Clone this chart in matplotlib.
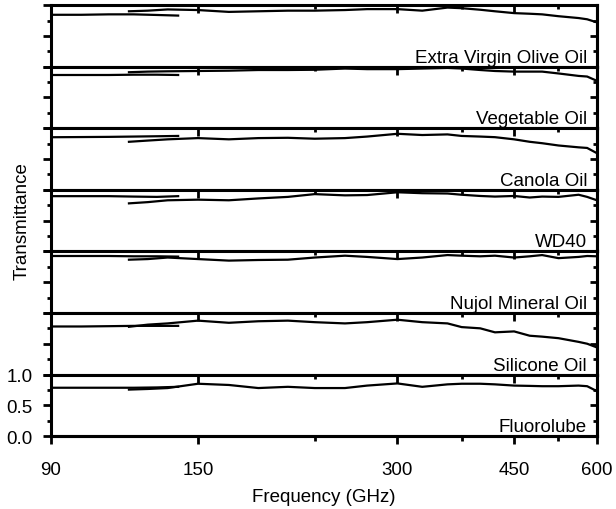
import matplotlib
matplotlib.use('Agg')
import matplotlib.pyplot as plt
from matplotlib.ticker import FixedLocator, NullFormatter, FixedFormatter

plt.rcParams['font.family'] = ['Liberation Sans', 'DejaVu Sans']

# frequency grids (GHz) for the two measurement bands
freq_short = [90, 100, 110, 120, 130, 140]
freq_long = [118, 126, 135, 150, 167, 185, 205, 225, 250, 270, 300, 327,
             357, 375, 400, 421, 450, 475, 496, 525, 563, 580, 600]

samples = ['Extra Virgin Olive Oil', 'Vegetable Oil', 'Canola Oil', 'WD40',
           'Nujol Mineral Oil', 'Silicone Oil', 'Fluorolube']

# transmittance, low band
olive_short = [0.843, 0.843, 0.85, 0.85, 0.84, 0.83]
veg_short = [0.865, 0.865, 0.865, 0.87, 0.87, 0.865]
canola_short = [0.854, 0.857, 0.86, 0.865, 0.87, 0.875]
wd40_short = [0.897, 0.897, 0.897, 0.89, 0.885, 0.897]
nujol_short = [0.925, 0.925, 0.925, 0.92, 0.92, 0.915]
silicone_short = [0.78, 0.78, 0.785, 0.79, 0.79, 0.79]
fluoro_short = [0.785, 0.785, 0.785, 0.785, 0.79, 0.80]

# transmittance, high band
olive_long = [0.90, 0.91, 0.93, 0.92, 0.89, 0.90, 0.91, 0.91, 0.92, 0.935, 0.935, 0.91,
              0.96, 0.95, 0.925, 0.90, 0.87, 0.86, 0.85, 0.82, 0.79, 0.77, 0.72]
veg_long = [0.91, 0.92, 0.925, 0.93, 0.935, 0.946, 0.946, 0.95, 0.97, 0.96, 0.96, 0.97,
            0.98, 0.97, 0.946, 0.93, 0.92, 0.92, 0.92, 0.89, 0.85, 0.84, 0.77]
canola_long = [0.78, 0.80, 0.82, 0.84, 0.82, 0.84, 0.845, 0.83, 0.84, 0.865, 0.91, 0.89,
               0.90, 0.875, 0.865, 0.855, 0.82, 0.78, 0.757, 0.72, 0.69, 0.68, 0.595]
wd40_long = [0.78, 0.80, 0.83, 0.84, 0.83, 0.86, 0.885, 0.93, 0.91, 0.915, 0.96, 0.945,
             0.94, 0.92, 0.90, 0.89, 0.90, 0.875, 0.89, 0.885, 0.92, 0.885, 0.83]
nujol_long = [0.865, 0.875, 0.90, 0.875, 0.85, 0.86, 0.865, 0.90, 0.93, 0.91, 0.875, 0.90,
              0.94, 0.93, 0.92, 0.93, 0.90, 0.92, 0.94, 0.89, 0.91, 0.925, 0.92]
silicone_long = [0.775, 0.81, 0.83, 0.875, 0.84, 0.865, 0.875, 0.85, 0.83, 0.85, 0.89, 0.85,
                 0.83, 0.77, 0.75, 0.685, 0.70, 0.63, 0.615, 0.59, 0.53, 0.50, 0.44]
fluoro_long = [0.755, 0.765, 0.78, 0.85, 0.83, 0.78, 0.80, 0.78, 0.78, 0.82, 0.855, 0.80,
               0.84, 0.85, 0.85, 0.84, 0.82, 0.815, 0.81, 0.81, 0.82, 0.81, 0.73]

short_sets = [olive_short, veg_short, canola_short, wd40_short,
              nujol_short, silicone_short, fluoro_short]
long_sets = [olive_long, veg_long, canola_long, wd40_long,
             nujol_long, silicone_long, fluoro_long]

x_major = [90, 150, 300, 450, 600]
x_minor = [225, 375, 525]
y_major = [0.0, 0.5, 1.0]
y_minor = [0.25, 0.75]

spine_w = 2.2
fs = 13.5

fig, axes = plt.subplots(7, 1, sharex=True, figsize=(6.16, 5.10), dpi=100)
fig.subplots_adjust(left=0.0828, right=0.969, bottom=0.143, top=0.988, hspace=0)

for i, ax in enumerate(axes):
    ax.plot(freq_short, short_sets[i], color='k', lw=1.6)
    ax.plot(freq_long, long_sets[i], color='k', lw=1.6)
    ax.set_xscale('log')
    ax.set_xlim(90, 600)
    ax.set_ylim(0, 1)
    for sp in ax.spines.values():
        sp.set_linewidth(spine_w)

    # x ticks on the top edge of every panel, pointing in
    ax.xaxis.set_major_locator(FixedLocator(x_major))
    ax.xaxis.set_minor_locator(FixedLocator(x_minor))
    ax.xaxis.set_major_formatter(NullFormatter())
    ax.xaxis.set_minor_formatter(NullFormatter())
    ax.tick_params(axis='x', which='both', direction='in', top=True, bottom=False,
                   labelbottom=False, width=2)
    ax.tick_params(axis='x', which='major', length=6)
    ax.tick_params(axis='x', which='minor', length=3)

    # left y ticks out, right y ticks in
    ax.yaxis.set_major_locator(FixedLocator(y_major))
    ax.yaxis.set_minor_locator(FixedLocator(y_minor))
    ax.tick_params(axis='y', which='both', direction='out', left=True, right=False,
                   width=2, labelsize=fs, pad=7, labelleft=(i == len(axes) - 1))
    ax.tick_params(axis='y', which='major', length=6)
    ax.tick_params(axis='y', which='minor', length=3)

    ry = ax.secondary_yaxis('right')
    ry.yaxis.set_major_locator(FixedLocator(y_major))
    ry.yaxis.set_minor_locator(FixedLocator(y_minor))
    ry.yaxis.set_major_formatter(NullFormatter())
    ry.yaxis.set_minor_formatter(NullFormatter())
    ry.tick_params(axis='y', which='both', direction='in', width=2)
    ry.tick_params(axis='y', which='major', length=5)
    ry.tick_params(axis='y', which='minor', length=3)
    ry.spines['right'].set_linewidth(spine_w)

    ax.text(0.982, 0.08, samples[i], transform=ax.transAxes, ha='right',
            va='baseline', fontsize=fs)

axes[-1].yaxis.set_major_formatter(FixedFormatter(['0.0', '0.5', '1.0']))

# frequency axis under the bottom panel, ticks pointing out
bx = axes[-1].secondary_xaxis('bottom')
bx.xaxis.set_major_locator(FixedLocator(x_major))
bx.xaxis.set_minor_locator(FixedLocator(x_minor))
bx.xaxis.set_major_formatter(FixedFormatter([str(v) for v in x_major]))
bx.xaxis.set_minor_formatter(NullFormatter())
bx.tick_params(axis='x', which='both', direction='out', width=2, labelsize=fs, pad=12)
bx.tick_params(axis='x', which='major', length=6)
bx.tick_params(axis='x', which='minor', length=3.5)
bx.spines['bottom'].set_linewidth(spine_w)

fig.text(324 / 616, 1 - 498 / 510, 'Frequency (GHz)', ha='center', va='center', fontsize=fs)
fig.text(22 / 616, 1 - 221 / 510, 'Transmittance', ha='center', va='center',
         rotation=90, fontsize=fs)

fig.savefig('out.png', dpi=100)
